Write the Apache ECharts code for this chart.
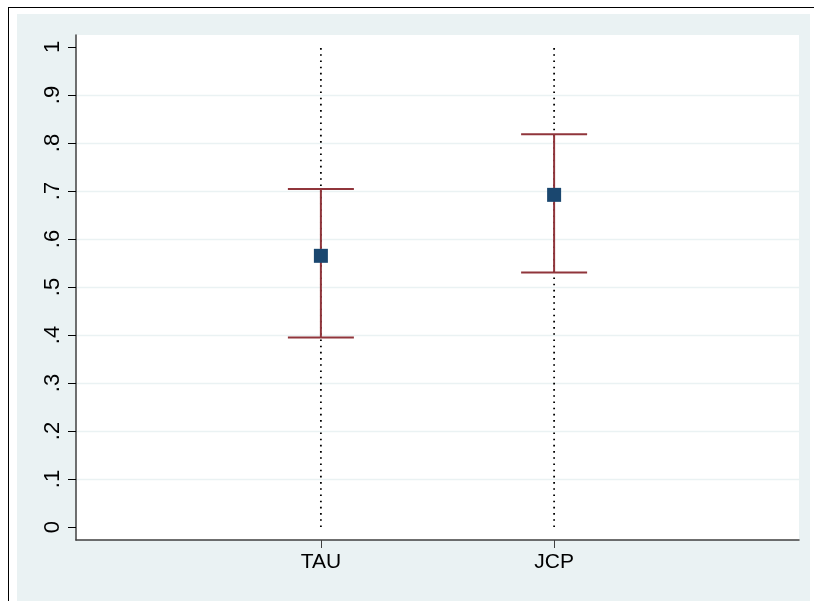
<!DOCTYPE html>
<html>
<head>
<meta charset="utf-8">
<script src="https://cdn.jsdelivr.net/npm/echarts@6/dist/echarts.min.js"></script>
<style>
  html, body { margin: 0; padding: 0; background: #fff; }
  #wrap { position: relative; width: 814px; height: 601px; overflow: hidden; }
  #frame { position: absolute; left: 8px; top: 7px; width: 820px; height: 620px;
           border-left: 1.5px solid #000; border-top: 1.5px solid #000; }
  #bg { position: absolute; left: 17px; top: 14px; width: 793px; height: 587px; background: #EAF2F3; }
  #main { position: absolute; left: 0; top: 0; width: 814px; height: 601px; }
</style>
</head>
<body>
<div id="wrap">
  <div id="frame"></div>
  <div id="bg"></div>
  <div id="main"></div>
</div>
<script>
// ---- data ----
const categories = ['TAU', 'JCP'];
const means = [0.565, 0.692];
const lower = [0.395, 0.530];
const upper = [0.704, 0.818];
const yTicks = [0, 0.1, 0.2, 0.3, 0.4, 0.5, 0.6, 0.7, 0.8, 0.9, 1];
const yTickLabels = ['0', '.1', '.2', '.3', '.4', '.5', '.6', '.7', '.8', '.9', '1'];
const catPositions = categories.map((c, i) => i + 1);

// ---- styles ----
const FONT = "'Liberation Sans Narrow', 'Liberation Sans', Arial, sans-serif";
const CI_COLOR = '#90353B';
const PT_COLOR = '#1A476F';
const GRID_COLOR = '#EAF2F3';
const CAP_HALF_PX = 33;

const chart = echarts.init(document.getElementById('main'), null, { renderer: 'canvas' });

const option = {
  animation: false,
  backgroundColor: 'transparent',
  grid: {
    left: 76, right: 15, top: 35, bottom: 61,
    show: true, backgroundColor: '#ffffff', borderWidth: 0
  },
  xAxis: {
    type: 'value',
    min: -0.05, max: 3.05,
    splitLine: { show: false },
    axisLine: { show: true, onZero: false, lineStyle: { color: '#404040', width: 1.5 } },
    axisTick: { show: true, customValues: catPositions, length: 8, lineStyle: { color: '#404040', width: 1 } },
    axisLabel: {
      customValues: catPositions,
      formatter: v => categories[Math.round(v) - 1] || '',
      color: '#000', fontFamily: FONT, fontSize: 21, margin: 12
    }
  },
  yAxis: {
    type: 'value',
    min: -0.027, max: 1.025,
    splitLine: { show: false },
    axisLine: { show: true, onZero: false, lineStyle: { color: '#404040', width: 1.5 } },
    axisTick: { show: true, customValues: yTicks, length: 8, lineStyle: { color: '#000', width: 1 } },
    axisLabel: {
      customValues: yTicks,
      formatter: v => {
        const i = yTicks.findIndex(t => Math.abs(t - v) < 1e-6);
        return i >= 0 ? yTickLabels[i] : '';
      },
      rotate: 90,
      color: '#000', fontFamily: FONT, fontSize: 22, margin: 12
    }
  },
  series: [
    {
      // horizontal gridlines at interior ticks
      type: 'line',
      data: [],
      silent: true,
      z: 0,
      markLine: {
        silent: true,
        z: 0,
        symbol: ['none', 'none'],
        label: { show: false },
        lineStyle: { color: GRID_COLOR, width: 1.3, type: 'solid' },
        data: yTicks.slice(1, -1).map(v => ({ yAxis: v }))
      }
    },
    {
      // dotted vertical reference lines at each category
      type: 'custom',
      silent: true,
      data: catPositions.map(p => [p]),
      renderItem: (params, api) => {
        const x = api.value(0);
        const p0 = api.coord([x, yTicks[0]]);
        const p1 = api.coord([x, yTicks[yTicks.length - 1]]);
        return {
          type: 'line',
          shape: { x1: p0[0], y1: p0[1], x2: p1[0], y2: p1[1] },
          style: { stroke: '#000', lineWidth: 1.8, lineDash: [1.6, 4.6] }
        };
      },
      z: 2
    },
    {
      // confidence interval bars
      type: 'custom',
      silent: true,
      data: categories.map((c, i) => [i + 1, lower[i], upper[i]]),
      renderItem: (params, api) => {
        const x = api.value(0);
        const lo = api.coord([x, api.value(1)]);
        const hi = api.coord([x, api.value(2)]);
        const st = { stroke: CI_COLOR, lineWidth: 2 };
        return {
          type: 'group',
          children: [
            { type: 'line', shape: { x1: lo[0], y1: lo[1], x2: hi[0], y2: hi[1] }, style: st },
            { type: 'line', shape: { x1: lo[0] - CAP_HALF_PX, y1: lo[1], x2: lo[0] + CAP_HALF_PX, y2: lo[1] }, style: st },
            { type: 'line', shape: { x1: hi[0] - CAP_HALF_PX, y1: hi[1], x2: hi[0] + CAP_HALF_PX, y2: hi[1] }, style: st }
          ]
        };
      },
      z: 3
    },
    {
      type: 'scatter',
      symbol: 'rect',
      symbolSize: 14,
      itemStyle: { color: PT_COLOR, opacity: 1 },
      data: categories.map((c, i) => [i + 1, means[i]]),
      z: 4
    }
  ]
};

chart.setOption(option);
</script>
</body>
</html>
